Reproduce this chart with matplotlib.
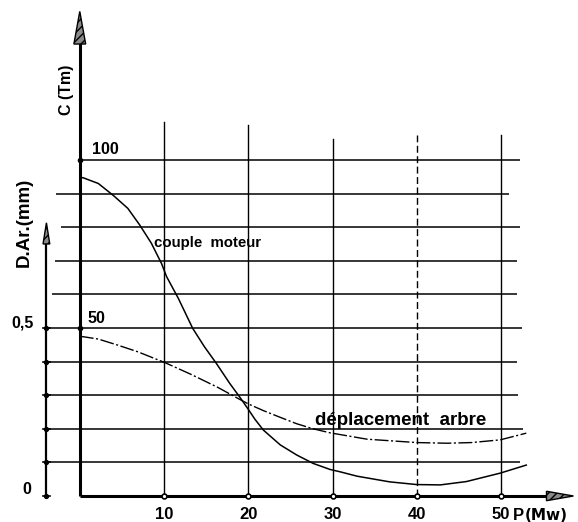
import numpy as np
import matplotlib
matplotlib.use("Agg")
import matplotlib.pyplot as plt
from matplotlib.patches import Polygon

# puissance P (MW) et couple moteur C (Tm)
p_couple = [0, 0.4, 2.2, 4.0, 5.7, 7.1, 8.5, 9.7, 10.3, 11.7, 13.4, 14.8, 16.2, 17.8,
            19.0, 20.0, 20.8, 21.8, 23.8, 25.75, 27.7, 29.7, 30.9, 32.9, 36.8, 40.0,
            42.8, 45.9, 49.9, 53.0]
c_couple = [94.8, 94.7, 93.0, 89.4, 85.6, 80.7, 75.2, 69.2, 65.3, 58.8, 49.9, 44.4, 39.5, 33.5,
            29.4, 25.8, 22.8, 19.6, 15.2, 12.2, 9.7, 7.9, 7.2, 5.9, 4.2, 3.4,
            3.3, 4.3, 6.8, 9.2]

# deplacement arbre D.Ar (mm)
p_depl = [0, 0.4, 2.2, 4.5, 6.9, 10.1, 13.2, 16.4, 18.8, 20.0, 21.8, 23.8, 25.75, 27.7,
          29.7, 34.1, 40.0, 43.6, 46.5, 49.9, 53.0]
d_depl = [0.475, 0.474, 0.467, 0.449, 0.429, 0.397, 0.362, 0.323, 0.290, 0.274, 0.254, 0.234,
          0.215, 0.200, 0.188, 0.169, 0.159, 0.157, 0.159, 0.167, 0.187]

x_ticks = [10, 20, 30, 40, 50]
c_grid = [10, 20, 30, 40, 50, 60, 70, 80, 90, 100]
d_ticks = [0, 0.1, 0.2, 0.3, 0.4, 0.5]

# 1 mm de deplacement = 100 Tm sur l'echelle du couple
D_SCALE = 100.0

FONT = ["Liberation Sans", "DejaVu Sans"]

fig = plt.figure(figsize=(5.78, 5.22), dpi=100)
ax = fig.add_axes([0, 0, 1, 1])
ax.set_xlim(-9.47, 59.14)
ax.set_ylim(-7.74, 147.6)
ax.axis("off")

X_DAR = -3.96  # position de l'axe D.Ar

# grille horizontale (debut a gauche, fin a droite)
grid_left = [X_DAR, X_DAR, X_DAR, X_DAR, X_DAR, -3.3, -3.0, -2.2, -2.8, 0]
grid_right = [52.25, 52.6, 52.0, 51.9, 52.5, 51.9, 51.9, 52.25, 50.95, 52.25]
for c, x0, x1 in zip(c_grid, grid_left, grid_right):
    ax.plot([x0, x1], [c, c], color="black", lw=1.1, solid_capstyle="butt")

# grille verticale
grid_top = [111.3, 110.4, 106.3, 107.4, 107.4]
for p, top in zip(x_ticks, grid_top):
    ls = (0, (5, 2.5)) if p == 40 else "-"
    ax.plot([p, p], [0, top], color="black", lw=1.0, ls=ls)

# axes principaux
ax.plot([0, 0], [0, 136], color="black", lw=2.2, solid_capstyle="butt")
ax.plot([0, 56], [0, 0], color="black", lw=2.2, solid_capstyle="butt")
ax.plot([X_DAR, X_DAR], [0, 76], color="black", lw=1.6, solid_capstyle="butt")

def arrow_head(pts):
    ax.add_patch(Polygon(pts, closed=True, facecolor="#8a8a8a",
                         edgecolor="black", lw=1.0, hatch="////", zorder=5))

arrow_head([(-0.7, 134.5), (0.7, 134.5), (0, 144.2)])
arrow_head([(55.4, -1.4), (55.4, 1.4), (58.6, 0)])
arrow_head([(X_DAR - 0.4, 75.0), (X_DAR + 0.4, 75.0), (X_DAR, 81.3)])

# reperes
ax.plot(x_ticks, [0] * len(x_ticks), "o", ms=3.5, mfc="white", mec="black", mew=1.2, zorder=6)
ax.plot([0, 0], [50, 100], "o", ms=3.0, mfc="black", mec="black", zorder=6)
d_y = [d * D_SCALE for d in d_ticks]
ax.plot([X_DAR] * len(d_y), d_y, "o", ms=2.8, mfc="black", mec="black", zorder=6)
for y in d_y:
    ax.plot([X_DAR - 0.4, X_DAR + 0.4], [y, y], color="black", lw=1.2)

# courbes
ax.plot(p_couple, c_couple, color="black", lw=1.1, zorder=4)
ax.plot(p_depl, np.array(d_depl) * D_SCALE, color="black", lw=1.0,
        ls=(0, (10, 1.8, 1.5, 1.8)), zorder=4)

bold = dict(family=FONT, fontweight="bold", color="black")

for p in x_ticks:
    ax.text(p, -5.6, str(p), ha="center", va="center", fontsize=12, **bold)
ax.text(51.4, -5.9, "P", ha="left", va="center", fontsize=12, **bold)
ax.text(52.8, -5.9, "(Mw)", ha="left", va="center", fontsize=11,
        family=["DejaVu Sans"], fontweight="bold")

ax.text(1.5, 103.0, "100", ha="left", va="center", fontsize=11.5, **bold)
ax.text(0.9, 52.7, "50", ha="left", va="center", fontsize=11.5, **bold)
ax.text(-6.85, 51.5, "0,5", ha="center", va="center", fontsize=11.5, **bold)
ax.text(-6.26, 1.8, "0", ha="center", va="center", fontsize=11.5, **bold)

ax.text(-1.63, 120.8, "C (Tm)", rotation=90, ha="center", va="center", fontsize=11.5, **bold)
ax.text(-6.6, 81.5, "D.Ar.(mm)", rotation=90, ha="center", va="center", fontsize=13.5, **bold)

ax.text(8.85, 75.3, "couple  moteur", ha="left", va="center", fontsize=10.8, **bold)
ax.text(27.9, 22.6, "déplacement  arbre", ha="left", va="center", fontsize=13.5, **bold)

fig.savefig("out.png", dpi=100, facecolor="white")
